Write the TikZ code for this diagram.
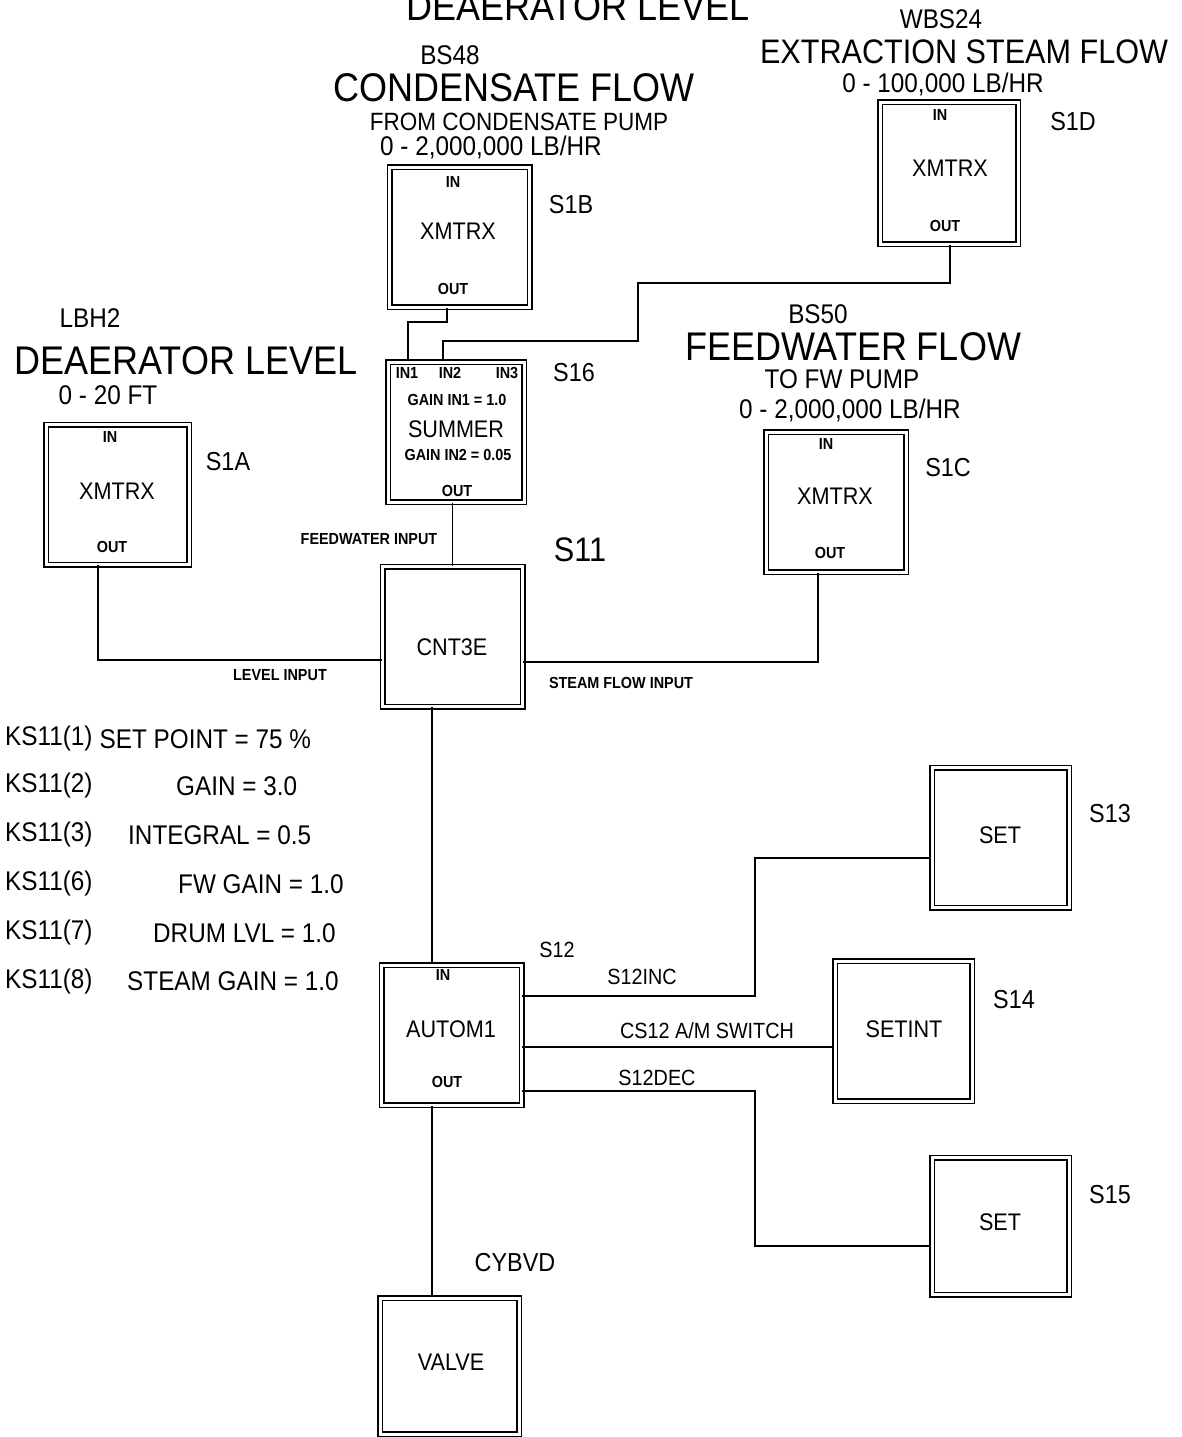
\documentclass[tikz,border=0pt]{standalone}
\usepackage{fontspec}
\setmainfont{Liberation Sans}[FakeStretch=0.9]
\usetikzlibrary{calc}

\begin{document}
\begin{tikzpicture}[x=1pt, y=-1pt,
  blk/.style={draw, double, line width=1.5pt, double distance=3pt,
    minimum width=140pt, minimum height=140pt, inner sep=0pt},
  wire/.style={line width=1.5pt},
  hdbig/.style={inner sep=0pt, font=\fontsize{40}{44}\selectfont},
  hdmid/.style={inner sep=0pt, font=\fontsize{34}{38}\selectfont},
  hd/.style={inner sep=0pt, font=\fontsize{27}{29}\selectfont},
  tag/.style={inner sep=0pt, font=\fontsize{26}{28}\selectfont},
  lst/.style={inner sep=0pt, anchor=west, font=\fontsize{27}{29}\selectfont},
  bname/.style={inner sep=0pt, font=\fontsize{24}{26}\selectfont},
  sig/.style={inner sep=0pt, font=\fontsize{22}{24}\selectfont},
  port/.style={inner sep=0pt, font=\bfseries\fontsize{16}{18}\selectfont}]

\useasboundingbox (0,0) rectangle (1181,1437);

% blocks
\node[blk] (s1b) at (459.5,237) {};
\node[blk, minimum width=138pt, minimum height=142pt] (s1d) at (949,173) {};
\node[blk, minimum width=136pt] (s16) at (456,432) {};
\node[blk, minimum width=143pt] (s1a) at (117.5,494.5) {};
\node[blk] (s1c) at (836,502) {};
\node[blk] (s11) at (452.5,636.5) {};
\node[blk] (s12) at (451.5,1035) {};
\node[blk, minimum width=137pt] (s13) at (1000.5,837.5) {};
\node[blk, minimum width=137pt] (s14) at (903.5,1031) {};
\node[blk, minimum width=137pt, minimum height=137pt] (s15) at (1000.5,1226) {};
\node[blk, minimum width=139pt, minimum height=136pt] (valve) at (449.5,1366) {};

% block texts
\node[port] (s1b-in) at (453,182) {IN};
\node[bname] (s1b-nm) at (458,231) {XMTRX};
\node[port] (s1b-out) at (453,289) {OUT};
\node[port] (s1d-in) at (940,115) {IN};
\node[bname] (s1d-nm) at (950,168) {XMTRX};
\node[port] (s1d-out) at (945,226) {OUT};
\node[port] (s1a-in) at (110,437) {IN};
\node[bname] (s1a-nm) at (117,491) {XMTRX};
\node[port] (s1a-out) at (112,547) {OUT};
\node[port] (s1c-in) at (826,444) {IN};
\node[bname] (s1c-nm) at (835,496) {XMTRX};
\node[port] (s1c-out) at (830,553) {OUT};
\node[port] (s16-in1) at (407,373) {IN1};
\node[port] (s16-in2) at (450,373) {IN2};
\node[port] (s16-in3) at (507,373) {IN3};
\node[port] (s16-g1) at (457,400) {GAIN IN1 = 1.0};
\node[bname] (s16-nm) at (456,429) {SUMMER};
\node[port] (s16-g2) at (458,455) {GAIN IN2 = 0.05};
\node[port] (s16-out) at (457,491) {OUT};
\node[bname] (s11-nm) at (452,647) {CNT3E};
\node[port] (s12-in) at (443,975) {IN};
\node[bname] (s12-nm) at (451,1029) {AUTOM1};
\node[port] (s12-out) at (447,1082) {OUT};
\node[bname] (s13-nm) at (1000,835) {SET};
\node[bname] (s14-nm) at (904,1029) {SETINT};
\node[bname] (s15-nm) at (1000,1222) {SET};
\node[bname] (valve-nm) at (451,1362) {VALVE};

% block tags
\node[tag] (t1b) at (571,205) {S1B};
\node[tag] (t16) at (574,373) {S16};
\node[tag] (t1d) at (1073,122) {S1D};
\node[tag] (t1a) at (228,462) {S1A};
\node[tag] (t1c) at (948,468) {S1C};
\node[hdmid] (t11) at (580,550) {S11};
\node[sig] (t12) at (557,950) {S12};
\node[tag] (t13) at (1110,814) {S13};
\node[tag] (t14) at (1014,1000) {S14};
\node[tag] (t15) at (1110,1195) {S15};
\node[tag] (tvd) at (515,1263) {CYBVD};

% headings
\node[hdbig, anchor=base] (h0) at (578,21) {DEAERATOR LEVEL};
\node[hd] (h1a) at (450,55) {BS48};
\node[hdbig] (h1b) at (514,88) {CONDENSATE FLOW};
\node[hd, font=\fontsize{25}{27}\selectfont] (h1c) at (519,122) {FROM CONDENSATE PUMP};
\node[hd] (h1d) at (491,147) {0 - 2,000,000 LB/HR};
\node[hd] (h2a) at (941,19) {WBS24};
\node[hdmid] (h2b) at (964,52) {EXTRACTION STEAM FLOW};
\node[hd] (h2c) at (943,84) {0 - 100,000 LB/HR};
\node[hd] (h3a) at (90,318) {LBH2};
\node[hdbig] (h3b) at (186,361) {DEAERATOR LEVEL};
\node[hd] (h3c) at (108,395) {0 - 20 FT};
\node[hd] (h4a) at (818,314) {BS50};
\node[hdbig] (h4b) at (853,347) {FEEDWATER FLOW};
\node[hd] (h4c) at (842,379) {TO FW PUMP};
\node[hd] (h4d) at (850,410) {0 - 2,000,000 LB/HR};

% constants
\foreach \k/\y in {1/739, 2/786, 3/835, 6/884, 7/933, 8/981}
  \node[lst] (ks\k) at (5,\y) {KS11(\k)};
\node[lst] (kv1) at (ks1.east) {\ SET POINT = 75 \%};
\node[lst] (kv2) at (176,786) {GAIN = 3.0};
\node[lst] (kv3) at (128,835) {INTEGRAL = 0.5};
\node[lst] (kv6) at (178,884) {FW GAIN = 1.0};
\node[lst] (kv7) at (153,933) {DRUM LVL = 1.0};
\node[lst] (kv8) at (127,981) {STEAM GAIN = 1.0};

% connectors
\coordinate (b1) at (447,322);
\coordinate (b2) at (408,322);
\draw[wire] (s1b.south -| b1) -- (b1) -- (b2) -- (s16.north -| b2);

\coordinate (d1) at (950,283);
\coordinate (d2) at (638,283);
\coordinate (d3) at (638,341);
\coordinate (d4) at (443,341);
\draw[wire] (s1d.south -| d1) -- (d1) -- (d2) -- (d3) -- (d4) -- (s16.north -| d4);

\draw[wire] (s11.north) -- (s11.north |- s16.south);
\node[port] (lfw) at (369,539) {FEEDWATER INPUT};

\coordinate (a1) at (98,660);
\draw[wire] (s1a.south -| a1) -- (a1) -- (a1 -| s11.west);
\node[port] (llv) at (280,675) {LEVEL INPUT};

\coordinate (c1) at (818,662);
\draw[wire] (s1c.south -| c1) -- (c1) -- (c1 -| s11.east);
\node[port] (lsf) at (621,683) {STEAM FLOW INPUT};

\coordinate (v1) at (432,836);
\draw[wire] (s11.south -| v1) -- (s12.north -| v1);
\draw[wire] (s12.south -| v1) -- (valve.north -| v1);

\coordinate (e1) at (755,996);
\coordinate (e2) at (755,858);
\draw[wire] (s12.east |- e1) -- (e1) -- (e2) -- (e2 -| s13.west);
\node[sig] (linc) at (642,977) {S12INC};

\coordinate (f1) at (700,1047);
\draw[wire] (s12.east |- f1) -- (f1 -| s14.west);
\node[sig] (lam) at (707,1031) {CS12 A/M SWITCH};

\coordinate (g1) at (755,1091);
\coordinate (g2) at (755,1246);
\draw[wire] (s12.east |- g1) -- (g1) -- (g2) -- (g2 -| s15.west);
\node[sig] (ldec) at (657,1078) {S12DEC};
\end{tikzpicture}
\end{document}
